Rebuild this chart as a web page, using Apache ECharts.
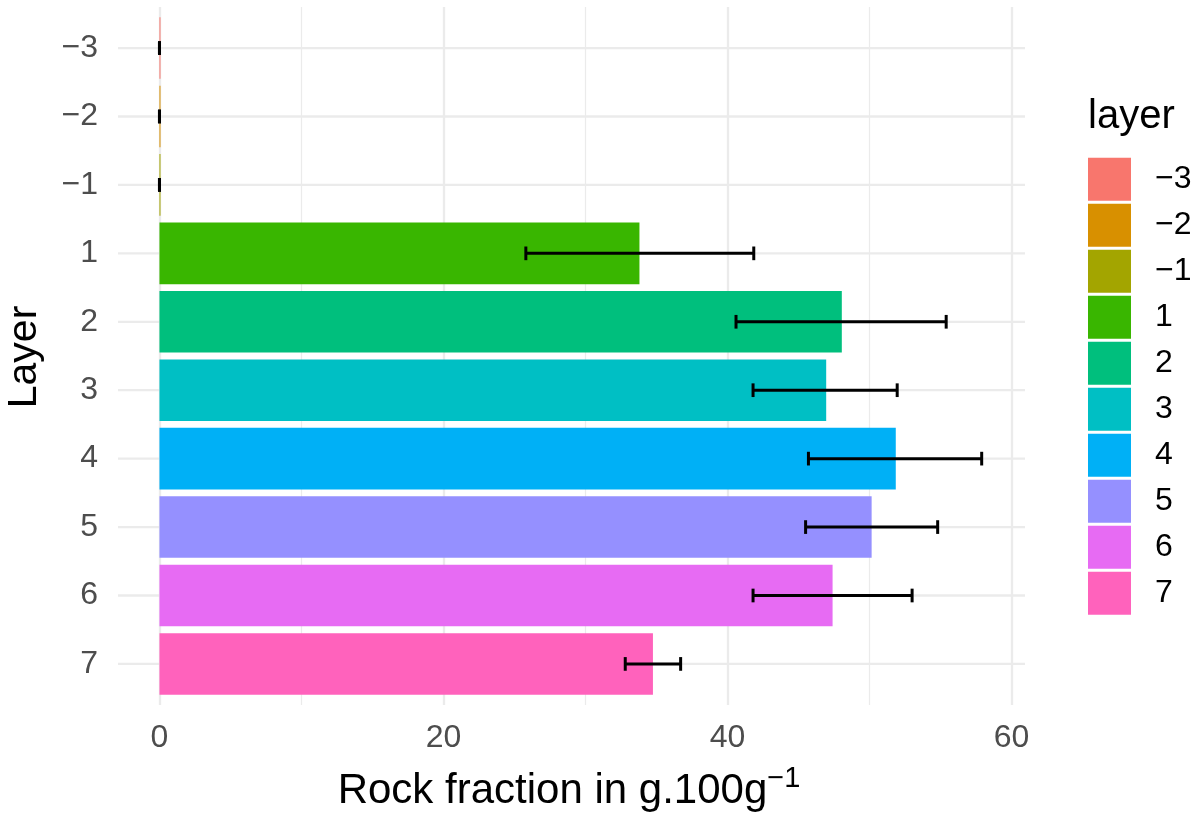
<!DOCTYPE html>
<html><head><meta charset="utf-8">
<script src="https://cdn.jsdelivr.net/npm/echarts@6/dist/echarts.min.js"></script>
<style>html,body{margin:0;padding:0;background:#fff}#c{width:1201px;height:822px}</style>
</head><body><div id="c"></div>
<script>
const layers = ['\u22123','\u22122','\u22121','1','2','3','4','5','6','7'];
const rockMean = [0, 0, 0, 33.8, 48.05, 46.95, 51.85, 50.15, 47.4, 34.75];
const errLow   = [0, 0, 0, 25.8, 40.6, 41.8, 45.7, 45.5, 41.8, 32.8];
const errHigh  = [0, 0, 0, 41.85, 55.4, 51.95, 57.9, 54.8, 53.0, 36.7];
const layerColors = ['#F8766D','#D89000','#A3A500','#39B600','#00BF7D','#00BFC4','#00B0F6','#9590FF','#E76BF3','#FF62BC'];
const xMajorTicks = [0, 20, 40, 60];
const xMinorTicks = [10, 30, 50];
const xLimits = [-2.92, 60.95];

const FONT = 'Liberation Sans, Arial, sans-serif';
const chart = echarts.init(document.getElementById('c'), null, {renderer: 'canvas'});

const barSeries = layers.map((name, i) => ({
  name: name,
  type: 'bar',
  xAxisIndex: 2,
  yAxisIndex: 1,
  stack: 'total',
  barWidth: '90%',
  barMinHeight: 1,
  z: 2,
  itemStyle: {color: layerColors[i]},
  data: rockMean.map((v, j) => j === i ? v : '-'),
  silent: true
}));

const option = {
  animation: false,
  backgroundColor: '#ffffff',
  textStyle: {fontFamily: FONT},
  grid: [
    {left: 118, top: 7, width: 907, height: 698},
    {left: 118, top: 13.84, width: 907, height: 684.3}
  ],
  xAxis: [
    {gridIndex: 0, type: 'value', min: xLimits[0], max: xLimits[1],
     axisLine: {show: false},
     axisTick: {show: false, customValues: xMajorTicks},
     axisLabel: {customValues: xMajorTicks, fontSize: 32, color: '#4d4d4d', margin: 17, fontFamily: FONT},
     splitLine: {show: true, lineStyle: {color: '#ebebeb', width: 2.3}}},
    {gridIndex: 0, type: 'value', min: xLimits[0], max: xLimits[1],
     axisLine: {show: false},
     axisTick: {show: false, customValues: xMinorTicks},
     axisLabel: {show: false, customValues: xMinorTicks},
     splitLine: {show: true, lineStyle: {color: '#ebebeb', width: 1.2}}},
    {gridIndex: 1, type: 'value', min: xLimits[0], max: xLimits[1], show: false,
     splitLine: {show: false}}
  ],
  yAxis: [
    {gridIndex: 0, type: 'value', min: 0, max: 1, show: false, splitLine: {show: false}},
    {gridIndex: 1, type: 'category', data: layers, inverse: true,
     axisLine: {show: false}, axisTick: {show: false}, splitLine: {show: false},
     axisLabel: {fontSize: 32, color: '#4d4d4d', margin: 20, fontFamily: FONT}}
  ],
  legend: {
    orient: 'vertical', left: 1088, top: 157.7, padding: 0,
    itemWidth: 43, itemHeight: 43, itemGap: 3, icon: 'rect',
    selectedMode: false,
    data: layers,
    textStyle: {fontSize: 32, color: '#000000', fontFamily: FONT, padding: [0, 0, 0, 19]}
  },
  graphic: [
    {type: 'text', left: 1088, top: 97, style: {text: 'layer', fontSize: 40, fill: '#000', fontFamily: FONT}},
    {type: 'text', x: 25, y: 357, rotation: Math.PI / 2,
     style: {text: 'Layer', fontSize: 41, fill: '#000', fontFamily: FONT, align: 'center', verticalAlign: 'middle'}},
    {type: 'text', x: 569, y: 788,
     style: {text: '{m|Rock fraction in g.100g}{s|\u22121}', align: 'center', verticalAlign: 'middle', fontFamily: FONT,
       rich: {m: {fontSize: 42, fill: '#000', fontFamily: FONT, lineHeight: 48, verticalAlign: 'bottom'},
              s: {fontSize: 29, fill: '#000', fontFamily: FONT, lineHeight: 31, verticalAlign: 'top'}}}}
  ],
  series: [
    {
      type: 'custom', name: 'hgrid', xAxisIndex: 2, yAxisIndex: 1, z: 1, silent: true,
      clip: false,
      data: layers.map((c, i) => [i]),
      encode: {y: 0},
      renderItem: function (params, api) {
        const cs = params.coordSys;
        const y = api.coord([0, api.value(0)])[1];
        return {type: 'line', shape: {x1: cs.x, y1: y, x2: cs.x + cs.width, y2: y},
                style: {stroke: '#ebebeb', lineWidth: 2.3}};
      }
    },
    ...barSeries,
    {
      type: 'custom', name: 'err', xAxisIndex: 2, yAxisIndex: 1, z: 3, silent: true, clip: false,
      data: layers.map((c, i) => [i, errLow[i], errHigh[i]]),
      encode: {y: 0, x: [1, 2]},
      renderItem: function (params, api) {
        const idx = api.value(0);
        const p1 = api.coord([api.value(1), idx]);
        const p2 = api.coord([api.value(2), idx]);
        const band = api.size([0, 1])[1];
        const h = band * 0.2 / 2;
        const st = {stroke: '#000', lineWidth: 3, fill: null};
        return {type: 'group', children: [
          {type: 'line', shape: {x1: p1[0], y1: p1[1], x2: p2[0], y2: p2[1]}, style: st},
          {type: 'line', shape: {x1: p1[0], y1: p1[1] - h, x2: p1[0], y2: p1[1] + h}, style: st},
          {type: 'line', shape: {x1: p2[0], y1: p2[1] - h, x2: p2[0], y2: p2[1] + h}, style: st}
        ]};
      }
    }
  ]
};
chart.setOption(option);
</script>
</body></html>
